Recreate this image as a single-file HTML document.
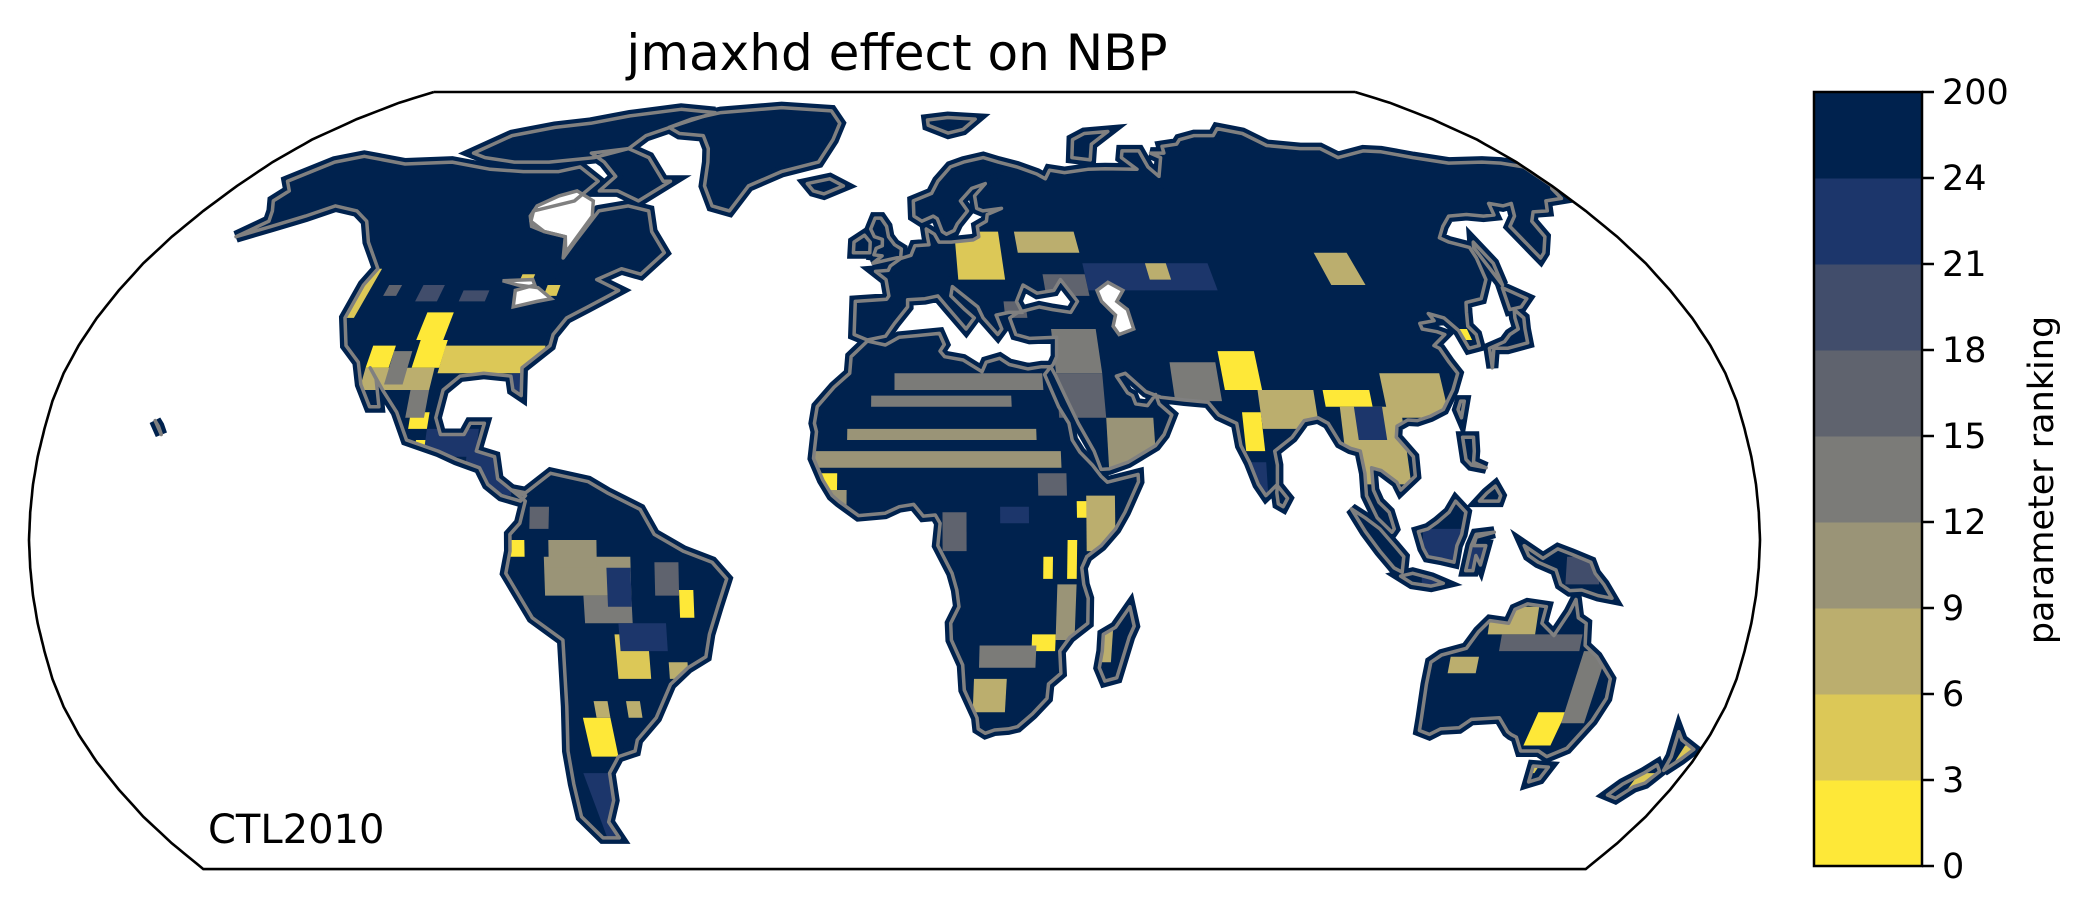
<!DOCTYPE html>
<html><head><meta charset="utf-8">
<style>
html,body{margin:0;padding:0;background:#fff;}
svg{display:block;}
text{font-family:"DejaVu Sans","Liberation Sans",sans-serif;fill:#000;}
</style></head>
<body>
<svg id="fig" width="2085" height="918" viewBox="0 0 2085 918" xmlns="http://www.w3.org/2000/svg">
  <text x="897" y="70" font-size="50" text-anchor="middle">jmaxhd effect on NBP</text>
  <defs><clipPath id="mapclip"><path id="clipOutline" d=""/></clipPath><clipPath id="landclip"></clipPath></defs>
  <g id="mapgroup" clip-path="url(#mapclip)">
    <g id="land"></g>
    <g id="cells" clip-path="url(#landclip)"></g>
    <g id="coast"></g>
  </g>
  <path id="outline" fill="none" stroke="#000" stroke-width="2.6"/>
  <text x="208" y="843" font-size="40">CTL2010</text>
  <g id="cbar"></g>
  <text font-size="35" text-anchor="middle" transform="translate(2053,480) rotate(-90)">parameter ranking</text>
</svg>
<script>
// ---- colorbar data ----
const levelBounds = [0,3,6,9,12,15,18,21,24,200];
const levelColors = ["#fee838","#dcc857","#bbae6e","#9a9477","#7b7b78","#5f636e","#414d6b","#1c366b","#00224e"];
const tickLabels = ["0","3","6","9","12","15","18","21","24","200"];

// ---- ranking cells: [lonW, latS, lonE, latN, rank] ----
const usCells = [
 [-126,40,-122,49,4.5],[-106,36,-100,41,1.5],[-105,31,-99,36,1.5],[-99,30,-77,35,4.5],
 [-115,31,-110,35,1.5],[-115,27,-100,31,7.5],[-110,28,-106,34,13.5],[-118,44,-115,46,16.5],
 [-110,43,-105,46,19.5],[-100,43,-94,45,19.5],[-88,46,-85,48,4.5],[-81,44,-78,46,4.5],
 [-103,20,-99,23,1.5],[-101,15,-98,18,1.5],[-99,15,-88,20,22.5],[-90,8,-80,16,22.5],
 [-85,18,-72,23,22.5],[-83,25,-79,30,22.5],[-104,22,-100,27,13.5]
];
const saCells = [
 [-73,-10,-55,-3,10.5],[-65,-15,-55,-10,13.5],[-72,-5,-62,0,10.5],[-59,-25,-52,-17,4.5],
 [-68,-39,-62,-32,1.5],[-45,-14,-42,-9,1.5],[-80,-3,-77,0,1.5],[-58,-20,-48,-15,22.5],
 [-71,-55,-65,-42,22.5],[-60,-12,-55,-5,22.5],[-50,-10,-45,-4,16.5],[-65,-32,-62,-29,7.5],
 [-58,-32,-55,-29,7.5],[-48,-25,-44,-22,7.5],[-76,2,-72,6,16.5]
];
const afCells = [
 [-17,13,35,16,10.5],[-10,18,30,20,10.5],[-5,24,25,26,13.5],[-17,9,-12,12,1.5],
 [-15,5,-10,9,10.5],[10,-2,15,5,16.5],[36,-7,38,0,1.5],[31,-7,33,-3,1.5],[38,4,41,7,1.5],
 [29,-20,34,-17,1.5],[34,-18,38,-8,10.5],[40,-2,46,8,7.5],[17,-31,24,-25,7.5],
 [18,-23,30,-19,13.5],[44,-22,46,-15,7.5],[0,27,32,30,13.5],[30,8,36,12,16.5],[22,3,28,6,22.5]
];
const euCells = [
 [15,47,26,56,4.5],[30,52,45,56,7.5],[45,45,75,50,22.5],[35,44,45,48,16.5],[60,47,65,50,7.5],
 [35,30,45,38,13.5],[45,12,55,22,10.5],[35,22,45,30,16.5],[25,40,30,43,16.5]
];
const asCells = [
 [102,46,110,52,7.5],[71,27,79,34,1.5],[74,16,78,23,1.5],[92,24,102,27,1.5],[78,20,90,27,7.5],
 [95,10,108,24,7.5],[105,22,118,30,7.5],[98,18,104,24,22.5],[126,36,128,38,1.5],
 [60,25,70,32,13.5],[72,8,78,14,22.5],[110,-8,125,2,22.5],[140,-8,147,-3,19.5]
];
const auCells = [
 [125,-17,135,-12,7.5],[128,-20,145,-17,16.5],[118,-24,124,-21,7.5],[140,-37,146,-31,1.5],
 [146,-33,151,-20,13.5],[144,-42,146,-40,4.5],[170,-45,174,-42,4.5],[176,-40,178,-37,4.5]
];

// ---- land outlines (lon, lat) ----
const landPolys = [
 [[-168,66],[-162,70],[-156,71.3],[-141,69.6],[-128,70],[-115,68.5],[-105,68],[-95,68],[-90,69],[-82,66],[-85,62],[-94,60],[-93,58],[-88,56],[-82,55],[-80,51],[-79,54],[-77,60],[-70,61],[-64,60],[-61,56],[-56,52],[-60,48],[-65,49],[-70,47],[-64,45],[-66,44],[-70,42],[-74,40],[-76,37],[-76,35],[-81,31],[-80,26],[-82,27],[-83,29.5],[-89,30],[-94,29.5],[-97,27],[-97.5,22],[-96,19],[-91,19],[-90,21],[-87,21],[-88,16],[-84,15],[-83,11],[-80,9],[-77,8],[-78,7],[-82,8],[-85,10],[-87,13],[-92,14.5],[-96,16],[-103,18],[-106,23],[-110,27],[-114,31],[-112,29],[-110,24],[-112,24],[-115,28],[-117,32],[-121,35],[-124,40],[-124,46],[-123,49],[-130,54],[-135,58],[-140,60],[-147,61],[-152,59],[-158,57],[-164,55],[-160,58],[-162,60],[-165,62],[-164,64],[-168,66]],
 [[-125,72],[-120,76],[-110,78],[-100,79],[-90,81],[-75,83],[-62,82],[-70,79],[-78,76],[-80,73],[-88,71],[-100,70],[-110,70],[-120,71]],
 [[-80,73],[-72,71],[-64,66],[-62,66],[-68,62],[-75,64],[-80,64],[-78,67],[-84,70],[-90,72],[-80,73]],
 [[-73,78],[-68,80],[-60,82],[-40,83.5],[-22,82.5],[-18,79],[-19,75],[-22,70],[-32,68],[-40,65],[-43,60],[-48,61],[-52,65],[-54,70],[-56,73],[-60,76],[-68,76.5],[-73,78]],
 [[-24,65.5],[-18,66.5],[-14,65],[-19,63.4],[-22,64]],
 [[-80,9],[-77,8.5],[-72,12],[-64,10.5],[-60,8.5],[-53,5.5],[-50,1],[-44,-2],[-38,-4],[-35,-7],[-37,-12],[-39,-17],[-40,-21],[-44,-23],[-48,-26],[-52,-32],[-57,-36],[-58,-38],[-62,-39],[-65,-42],[-66,-47],[-69,-51],[-68,-54],[-72,-54],[-75,-50],[-74,-44],[-73,-38],[-71,-30],[-70,-18],[-76,-14],[-81,-6],[-80,-2],[-80,1],[-78,3],[-77,7],[-80,9]],
 [[-9,43],[-9,37],[-6,36],[-2,36.7],[0,39],[3,42],[3,43.3],[7,43.5],[10,44],[12,42],[16,38],[18,40],[16,41.5],[13,44],[13.5,45.7],[19,42],[20,40],[23,37],[24,38],[23,40.5],[26,41],[29,41],[28,43],[30,46],[33,44.5],[37,45],[39,47],[42,43],[40,41],[36,41.5],[33,42],[28,41],[26,40],[27,37],[30,36.3],[36,36.5],[35.5,33],[34.5,31.5],[34,31.2],[34.9,29.5],[37,25],[39,21],[42,16],[43.3,12.7],[45,12.8],[49,14],[52,15.5],[55,17],[57,19],[59,22.5],[56.5,24.5],[56,26.2],[54,24.2],[51.5,24.5],[51,26],[50,26.5],[48,29.5],[50,30],[54,26.7],[57,25.7],[62,25.2],[67,24.8],[69,22.5],[72.6,21],[73,17],[74.5,14],[76,10],[77.5,8],[80,10],[80.3,13.5],[80,16],[84,18.5],[87,21.5],[90,22],[92,21],[94,17.5],[96,16.5],[98,16],[98.5,12],[98.5,8],[100.5,4],[103.5,1.4],[104,2],[103,5],[101,6.8],[100,9],[100,13],[102,12.5],[105,10.4],[105.7,9],[109,11.5],[109,15],[106,18.5],[106.5,20.5],[109,21.6],[111,21.5],[114,22.3],[117,23.5],[120,27],[122,30],[121,32],[120,34.5],[119,35],[122.5,37],[121,37.5],[118,38],[118,39],[121.5,39.5],[121,40.8],[124,40],[126,37.7],[126.5,34.5],[129,35],[129.5,37],[128.5,38.5],[129.8,41],[131,42.8],[135,43.5],[139,47],[140.5,51],[141,53],[137,54],[135.5,54.8],[139,57],[143,59],[148,59.3],[152,59],[155,59.2],[157,61.5],[160,61],[163,61.5],[160,59],[156,57],[156,51],[158,52],[162,55],[163,58],[166,59.8],[170,60],[173,62],[178,62.5],[179,64.5],[180,65],[180,69],[175,69.8],[170,70],[160,69.8],[152,71],[145,72.3],[140,72.5],[130,71],[128,73],[122,73],[113,73.7],[110,76.5],[104,77.7],[100,76],[94,76],[88,75],[86,74],[81,73.5],[80,72],[76,72],[78,71],[74,67],[72.5,69],[73,72.5],[68,72.5],[66.5,71],[69,68.5],[60,68.6],[55,68.5],[48,67.8],[44,68.3],[42,66.5],[40,67.5],[35,69],[30,70],[26,71],[20,70],[16,69],[12,66],[10,63.5],[5,62],[5,59],[7,58],[10,59],[11,58.5],[12,56],[13,55.5],[15,56.2],[16,57.5],[19,60],[17.5,62],[21,64.5],[25,65.5],[21.5,63],[21.5,60.5],[23,60],[28,60.5],[24,59.3],[23.5,58],[21,57],[21,55],[19.5,54.4],[14,54],[11,54],[10,55.5],[8,56.5],[8.2,55],[8.5,53.5],[5,53.3],[4,51.5],[1.5,50.9],[-1,49.5],[-1.5,48.7],[-4.5,48.5],[-2,47],[-1.3,44],[-1.8,43.4],[-9,43]],
 [[-5.2,50],[1.5,51.2],[1.7,52.7],[0,53.5],[-1.5,55],[-2,57],[-3.5,58.6],[-5,58.6],[-6,56.5],[-5,55],[-3,54.5],[-3,53.3],[-4.5,52.8],[-5,51.6],[-3,51.4],[-5.2,50]],
 [[-6,52],[-6,54],[-7.5,55.3],[-10,54],[-10,52],[-6,52]],
 [[11,78.5],[17,76.6],[22,77.5],[27,80],[18,80.5],[11,79.8]],
 [[52,71],[57,70.5],[60,74],[68,77],[60,76.5],[55,75],[52,71]],
 [[142,46],[143.5,50],[143,54],[142,53],[142,46]],
 [[130,31],[132,34.5],[135,34.5],[140,35.5],[141,38],[142,40],[141,41.5],[140,40],[139.5,38],[137,37],[135,35.7],[131,34.5],[130,31]],
 [[140,41.5],[141.5,45.5],[145.5,43.5],[143,42],[140,41.5]],
 [[80,9.8],[82,7.5],[81,6],[80,6.5],[79.8,8.5]],
 [[120.5,22],[121.8,25],[121,25],[120.1,23.5]],
 [[95.2,5.6],[98,4],[101,2],[104,-1],[106,-3],[105.8,-5.8],[104,-5],[101,-2],[98,1.5],[95.2,5.6]],
 [[109,1.5],[111,2],[113,3.2],[115.5,5],[117,7],[119,5],[118,1],[117,-1],[116.5,-4],[114,-3.5],[111,-3],[110,-1.5],[109,1.5]],
 [[105.5,-6.5],[108,-6],[112,-6.9],[114.5,-7.8],[112,-8.3],[108,-7.8],[105.5,-6.5]],
 [[119,-5.5],[120,-1],[121,1],[124.8,1.4],[121,0.5],[120.5,-1],[123,-1],[122,-4.5],[121,-2.8],[120.5,-5.5]],
 [[131,-1],[135,-3.3],[138,-1.6],[141,-2.6],[145,-4],[146,-6],[148,-8],[150,-10.5],[147,-10],[143.5,-9],[141,-9.1],[139,-8],[137.8,-5.4],[134,-4],[132,-2.8],[131,-1]],
 [[120,18.5],[122.3,18.5],[122,16],[121.5,14],[124,13],[121,13.5],[120,14.5],[120,18.5]],
 [[122,7],[126,7],[126.5,8],[125.5,9.7],[123.6,8.4],[122,7]],
 [[114,-22],[116,-20.7],[121,-19.5],[123,-16.5],[125,-14.5],[129,-15],[130,-12.5],[132.5,-11.5],[136.5,-12],[136,-15],[139,-17.2],[141.5,-13],[142.5,-10.7],[143.5,-14],[145.3,-15],[146,-19],[149,-21],[153,-25],[153.6,-28.5],[152.5,-32.5],[150,-37.5],[146.5,-39],[144,-38],[140,-38],[137.5,-35.5],[136,-35],[135,-34.5],[132,-32],[126,-32.3],[124,-33.8],[120,-34],[118,-35],[115.5,-34.3],[115,-32],[114,-26],[114,-22]],
 [[144.7,-40.7],[148.3,-40.9],[148,-43],[146,-43.6],[144.7,-40.7]],
 [[172.7,-34.5],[174.5,-36],[178.5,-37.7],[177,-39.5],[175,-41.5],[174.5,-39],[172.7,-34.5]],
 [[172.6,-40.5],[174.3,-41.7],[173,-43.8],[171,-44.5],[169,-46.6],[166.5,-46],[168,-44],[171,-42],[172.6,-40.5]],
 [[49.3,-12],[50.4,-15.5],[49.5,-17.5],[47.5,-24.8],[45,-25.4],[43.6,-23],[44,-20],[44,-17],[46.5,-15.7],[49.3,-12]],
 [[-17,21],[-16.5,24],[-13,27.5],[-9.7,30],[-9.5,33],[-6,35.8],[-2,35.1],[1,36.5],[5,36.8],[10,37.2],[11,35.2],[10,34],[11,33],[15,32.4],[19,30.3],[20,32],[23,32.7],[25,31.6],[29,30.8],[32,31.2],[34,31.2],[32.5,29.8],[35,24],[37,21],[37.5,18],[39,15.8],[41.5,13.5],[43.2,11.5],[44.5,10.4],[51,11.8],[51,10.5],[48,5],[46,2],[43,-1],[40,-3],[39,-5],[39.5,-8],[40.5,-10.5],[40.6,-15],[37,-17.5],[35,-20],[35.5,-24],[33,-25.9],[32.9,-28.5],[30,-31.3],[27,-33.6],[25,-34],[22,-34.2],[20,-34.8],[18.4,-34],[18,-32],[15,-27],[14.5,-22.5],[12,-18],[11.8,-15],[13.5,-12],[13,-9],[12,-6],[9,-1],[9.5,3],[8.5,4.5],[6,4.3],[4,6.4],[1,6],[-2,4.8],[-7.5,4.4],[-11.5,6.9],[-13,8],[-15,10.8],[-17,14.7],[-16.5,19.5],[-17,21]],
 [[-157,21.5],[-155,19],[-156,20.5]]
];
const lakePolys = [
 [[47,45],[50,46.5],[53,45],[51,43],[53,41.5],[53.5,38],[50,37],[49,38.5],[50,40.5],[49,41.5],[47.5,43],[47,45]],
 [[-92,46.8],[-85,47],[-84,46],[-88,45],[-87,42],[-82,43],[-79,43.5],[-83,45.5],[-88,46]],
 [[-94,59],[-92,57],[-88,56],[-82,55],[-80,52],[-79,55],[-78,59],[-80,62],[-86,64],[-90,63],[-94,61]]
];

// ---- projection (Robinson) ----
const TX=[1,0.9986,0.9954,0.99,0.9822,0.973,0.96,0.9427,0.9216,0.8962,0.8679,0.835,0.7986,0.7597,0.7186,0.6732,0.6213,0.5722,0.5322];
const TY=[0,0.062,0.124,0.186,0.248,0.31,0.372,0.434,0.4958,0.5571,0.6176,0.6769,0.7346,0.7903,0.8435,0.8936,0.9394,0.9761,1];
const CX=894.5, SX=865.5, Y0=540, SY=448;
function interp(T,lat){const a=Math.min(Math.abs(lat),90)/5;const i=Math.min(Math.floor(a),17);const f=a-i;return T[i]+(T[i+1]-T[i])*f;}
function px(lon,lat){return CX+SX*interp(TX,lat)*lon/180;}
function py(lat){return Y0-SY*interp(TY,lat)*Math.sign(lat);}
function pathOf(poly){return poly.map((p,i)=>(i?'L':'M')+px(p[0],p[1]).toFixed(1)+','+py(p[1]).toFixed(1)).join('')+'Z';}

const NS='http://www.w3.org/2000/svg';
let od='M'+px(-180,90)+','+py(90)+'L'+px(180,90)+','+py(90);
for(let la=90;la>=-60;la-=1) od+='L'+px(180,la).toFixed(1)+','+py(la).toFixed(1);
od+='L'+px(-180,-60).toFixed(1)+','+py(-60).toFixed(1);
for(let la=-60;la<=90;la+=1) od+='L'+px(-180,la).toFixed(1)+','+py(la).toFixed(1);
od+='Z';
document.getElementById('outline').setAttribute('d',od);
document.getElementById('clipOutline').setAttribute('d',od);

const landG=document.getElementById('land'), coastG=document.getElementById('coast'), lc=document.getElementById('landclip');
landPolys.forEach(poly=>{
  const d=pathOf(poly);
  const p=document.createElementNS(NS,'path');
  p.setAttribute('d',d);p.setAttribute('fill','#00224e');p.setAttribute('stroke','#00224e');p.setAttribute('stroke-width','12');p.setAttribute('stroke-linejoin','miter');
  
  
  landG.appendChild(p);
  const c=document.createElementNS(NS,'path');c.setAttribute('d',d);lc.appendChild(c);
  const s=document.createElementNS(NS,'path');
  s.setAttribute('d',d);s.setAttribute('fill','none');s.setAttribute('stroke','#808080');s.setAttribute('stroke-width','3.5');s.setAttribute('stroke-linejoin','round');
  
  
  coastG.appendChild(s);
});
lakePolys.forEach(poly=>{
  const d=pathOf(poly);
  const p=document.createElementNS(NS,'path');
  p.setAttribute('d',d);p.setAttribute('fill','#fff');
  
  
  coastG.parentNode.insertBefore(p,coastG);
  const s=document.createElementNS(NS,'path');
  s.setAttribute('d',d);s.setAttribute('fill','none');s.setAttribute('stroke','#808080');s.setAttribute('stroke-width','3.5');
  
  
  coastG.appendChild(s);
});

function colorOf(v){for(let i=0;i<levelBounds.length-1;i++){if(v>=levelBounds[i]&&v<levelBounds[i+1])return levelColors[i];}return levelColors[levelColors.length-1];}
const cellsG=document.getElementById('cells');
[usCells,saCells,afCells,euCells,asCells,auCells].forEach(arr=>arr.forEach(c=>{
  const [w,s,e,n,v]=c;
  const pts=[[w,n],[e,n],[e,s],[w,s]];
  const p=document.createElementNS(NS,'path');
  p.setAttribute('d',pathOf(pts));p.setAttribute('fill',colorOf(v));
  
  
  cellsG.appendChild(p);
}));

// colorbar
const cb=document.getElementById('cbar');
const CB_X=1814, CB_W=108, CB_T=92, CB_B=866;
const nSeg=levelColors.length, segH=(CB_B-CB_T)/nSeg;
levelColors.forEach((col,i)=>{
  const r=document.createElementNS(NS,'rect');
  r.setAttribute('x',CB_X);r.setAttribute('y',CB_B-(i+1)*segH);r.setAttribute('width',CB_W);r.setAttribute('height',segH+0.5);r.setAttribute('fill',col);
  
  
  cb.appendChild(r);
});
const fr=document.createElementNS(NS,'rect');
fr.setAttribute('x',CB_X);fr.setAttribute('y',CB_T);fr.setAttribute('width',CB_W);fr.setAttribute('height',CB_B-CB_T);fr.setAttribute('fill','none');fr.setAttribute('stroke','#000');fr.setAttribute('stroke-width','2.5');


cb.appendChild(fr);
tickLabels.forEach((lab,i)=>{
  const y=CB_B-i*segH;
  const t=document.createElementNS(NS,'line');
  t.setAttribute('x1',CB_X+CB_W);t.setAttribute('x2',CB_X+CB_W+12);t.setAttribute('y1',y);t.setAttribute('y2',y);t.setAttribute('stroke','#000');t.setAttribute('stroke-width','2.5');
  
  
  cb.appendChild(t);
  const tx=document.createElementNS(NS,'text');
  tx.setAttribute('x',CB_X+CB_W+20);tx.setAttribute('y',y+12);tx.setAttribute('font-size','35');
  tx.textContent=lab;
  
  
  cb.appendChild(tx);
});
</script>
</body></html>
